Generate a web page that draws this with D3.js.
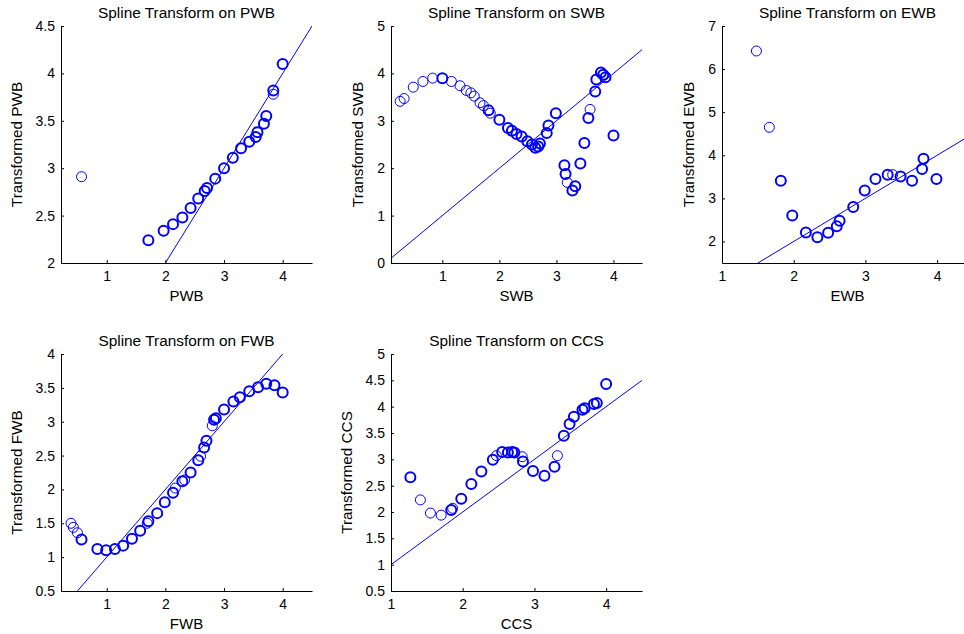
<!DOCTYPE html>
<html>
<head>
<meta charset="utf-8">
<script src="https://cdn.jsdelivr.net/npm/d3@7"></script>
<style>
  body { margin: 0; background: #fff; }
  svg { display: block; }
  text { font-family: "Liberation Sans", Arial, sans-serif; fill: #000; }
</style>
</head>
<body>
<svg id="chart" width="964" height="634"></svg>
<script>
// raw values (x = original score, y = transformed score, n = repeated obs)
const pwbX = [0.57, 1.71, 1.97, 2.13, 2.29, 2.43, 2.56, 2.67, 2.71, 2.85, 3.0, 3.15, 3.29, 3.43, 3.54, 3.57, 3.68, 3.72, 3.84, 3.84, 4.0];
const pwbY = [2.91, 2.24, 2.34, 2.41, 2.48, 2.58, 2.68, 2.76, 2.79, 2.89, 3.0, 3.11, 3.21, 3.28, 3.33, 3.38, 3.47, 3.55, 3.78, 3.82, 4.1];
const pwbN = [1, 2, 2, 2, 2, 2, 2, 2, 2, 2, 2, 2, 2, 2, 2, 2, 2, 2, 1, 2, 2];

const swbX = [0.26, 0.33, 0.49, 0.66, 0.83, 1.0, 1.16, 1.31, 1.42, 1.5, 1.56, 1.66, 1.72, 1.81, 1.84, 2.0, 2.15, 2.22, 2.3, 2.39, 2.49, 2.57, 2.63, 2.68, 2.71, 2.83, 2.86, 2.99, 3.14, 3.16, 3.19, 3.28, 3.33, 3.42, 3.49, 3.56, 3.59, 3.68, 3.7, 3.78, 3.82, 3.86, 4.0];
const swbY = [3.41, 3.47, 3.71, 3.83, 3.9, 3.9, 3.83, 3.74, 3.64, 3.59, 3.52, 3.38, 3.32, 3.22, 3.16, 3.02, 2.85, 2.79, 2.72, 2.67, 2.57, 2.5, 2.43, 2.46, 2.52, 2.74, 2.9, 3.16, 2.06, 1.88, 1.7, 1.53, 1.62, 2.1, 2.53, 3.06, 3.24, 3.62, 3.87, 4.02, 3.97, 3.92, 2.69];
const swbN = [1, 1, 1, 1, 1, 2, 1, 1, 1, 1, 1, 1, 1, 2, 1, 2, 2, 2, 2, 2, 2, 2, 2, 2, 2, 2, 2, 2, 2, 2, 1, 2, 2, 2, 2, 2, 1, 2, 2, 2, 2, 2, 2];

const ewbX = [1.48, 1.66, 1.82, 1.98, 2.17, 2.33, 2.48, 2.6, 2.64, 2.83, 2.99, 3.14, 3.31, 3.38, 3.49, 3.65, 3.79, 3.81, 3.99];
const ewbY = [6.42, 4.65, 3.41, 2.6, 2.21, 2.1, 2.2, 2.35, 2.48, 2.8, 3.18, 3.45, 3.55, 3.55, 3.51, 3.41, 3.68, 3.92, 3.45];
const ewbN = [1, 1, 2, 2, 2, 2, 2, 2, 2, 2, 2, 2, 2, 1, 2, 2, 2, 2, 2];

const fwbX = [0.39, 0.43, 0.5, 0.57, 0.84, 0.99, 1.14, 1.28, 1.43, 1.57, 1.69, 1.71, 1.86, 1.99, 2.13, 2.17, 2.29, 2.33, 2.43, 2.56, 2.6, 2.66, 2.7, 2.8, 2.83, 2.86, 3.0, 3.16, 3.27, 3.43, 3.58, 3.72, 3.86, 4.0];
const fwbY = [1.5, 1.44, 1.36, 1.26, 1.12, 1.1, 1.12, 1.17, 1.27, 1.39, 1.5, 1.53, 1.65, 1.81, 1.95, 2.02, 2.12, 2.14, 2.25, 2.43, 2.49, 2.62, 2.72, 2.94, 3.03, 3.05, 3.18, 3.3, 3.36, 3.45, 3.51, 3.56, 3.54, 3.43];
const fwbN = [1, 1, 1, 2, 2, 2, 2, 2, 2, 2, 1, 2, 2, 2, 2, 1, 2, 1, 2, 2, 1, 2, 2, 1, 2, 2, 2, 2, 2, 2, 2, 2, 2, 2];

const ccsX = [1.27, 1.41, 1.55, 1.7, 1.84, 1.86, 1.98, 2.12, 2.26, 2.42, 2.47, 2.55, 2.63, 2.69, 2.72, 2.83, 2.84, 2.98, 3.14, 3.28, 3.32, 3.41, 3.49, 3.55, 3.67, 3.7, 3.83, 3.87, 4.0];
const ccsY = [2.66, 2.23, 1.98, 1.94, 2.04, 2.07, 2.25, 2.53, 2.77, 2.99, 3.07, 3.14, 3.13, 3.14, 3.13, 3.05, 2.96, 2.78, 2.69, 2.86, 3.07, 3.45, 3.67, 3.81, 3.94, 3.97, 4.05, 4.07, 4.43];
const ccsN = [2, 1, 1, 1, 2, 1, 2, 2, 2, 2, 1, 2, 2, 2, 2, 1, 2, 2, 2, 2, 1, 2, 2, 2, 2, 2, 2, 2, 2];

// variable names and axis limits / ticks
const names = ["PWB", "SWB", "EWB", "FWB", "CCS"];
const xLimits = [[0.22, 4.5], [0.1, 4.5], [1, 4.5], [0.22, 4.5], [1, 4.5]];
const yLimits = [[2, 4.5], [0, 5], [1.5, 7], [0.5, 4], [0.5, 5]];
const xTicks = [1, 2, 3, 4];
const yTicks = [
  [2, 2.5, 3, 3.5, 4, 4.5],
  [0, 1, 2, 3, 4, 5],
  [2, 3, 4, 5, 6, 7],
  [0.5, 1, 1.5, 2, 2.5, 3, 3.5, 4],
  [0.5, 1, 1.5, 2, 2.5, 3, 3.5, 4, 4.5, 5],
];

const seriesX = [pwbX, swbX, ewbX, fwbX, ccsX];
const seriesY = [pwbY, swbY, ewbY, fwbY, ccsY];
const seriesN = [pwbN, swbN, ewbN, fwbN, ccsN];

// subplot grid (like matlab subplot(2,3,k))
const colLeft = [61, 391, 722];
const rowTop = [26, 354];
const plotW = 251;
const plotH = 237;
const blue = "#0000ff";
const fmt = d3.format("~g");

const svg = d3.select("#chart");

names.forEach((name, k) => {
  const left = colLeft[k % 3];
  const top = rowTop[Math.floor(k / 3)];

  const x = d3.scaleLinear().domain(xLimits[k]).range([0, plotW]);
  const y = d3.scaleLinear().domain(yLimits[k]).range([plotH, 0]);

  const g = svg.append("g").attr("transform", `translate(${left},${top})`);

  // clip so the reference line stays inside the axes
  g.append("clipPath")
    .attr("id", `clip${k}`)
    .append("rect")
    .attr("width", plotW)
    .attr("height", plotH);

  const pts = seriesX[k].map((v, i) => ({ x: v, y: seriesY[k][i], n: seriesN[k][i] }));

  // identity line y = x across the visible range
  const lo = Math.max(xLimits[k][0], yLimits[k][0]);
  const hi = Math.min(xLimits[k][1], yLimits[k][1]);
  g.append("path")
    .datum([lo, hi])
    .attr("clip-path", `url(#clip${k})`)
    .attr("d", d3.line().x((d) => x(d)).y((d) => y(d)))
    .attr("fill", "none")
    .style("stroke", blue)
    .style("stroke-width", 1);

  g.append("g")
    .selectAll("circle")
    .data(pts)
    .enter()
    .append("circle")
    .attr("cx", (d) => x(d.x))
    .attr("cy", (d) => y(d.y))
    .attr("r", 5)
    .attr("fill", "none")
    .style("stroke", blue)
    .style("stroke-width", (d) => (d.n > 1 ? 2 : 1));

  // axes, ticks pointing inward
  const xAxis = g.append("g")
    .attr("transform", `translate(0,${plotH})`)
    .call(d3.axisBottom(x).tickValues(xTicks).tickFormat(fmt)
      .tickSizeInner(-3).tickSizeOuter(0).tickPadding(8));

  const yAxis = g.append("g")
    .call(d3.axisLeft(y).tickValues(yTicks[k]).tickFormat(fmt)
      .tickSizeInner(-3).tickSizeOuter(0).tickPadding(6));

  [xAxis, yAxis].forEach((a) => {
    a.attr("font-family", null).attr("font-size", null);
    a.selectAll("text").style("font-size", "14px").attr("fill", "#000");
    a.selectAll("line, path").attr("stroke", "#000");
  });

  // widest y tick label decides where the ylabel goes
  let tickW = 0;
  yAxis.selectAll("text").each(function () {
    tickW = Math.max(tickW, this.getComputedTextLength());
  });

  g.append("text")
    .attr("x", plotW / 2)
    .attr("y", -8)
    .attr("text-anchor", "middle")
    .style("font-size", "15.4px")
    .text(`Spline Transform on ${name}`);

  g.append("text")
    .attr("x", plotW / 2)
    .attr("y", plotH + 38)
    .attr("text-anchor", "middle")
    .style("font-size", "15px")
    .text(name);

  g.append("text")
    .attr("transform", `translate(${-(tickW + 20)},${plotH / 2}) rotate(-90)`)
    .attr("text-anchor", "middle")
    .style("font-size", "15.3px")
    .text(`Transformed ${name}`);
});
</script>
</body>
</html>
